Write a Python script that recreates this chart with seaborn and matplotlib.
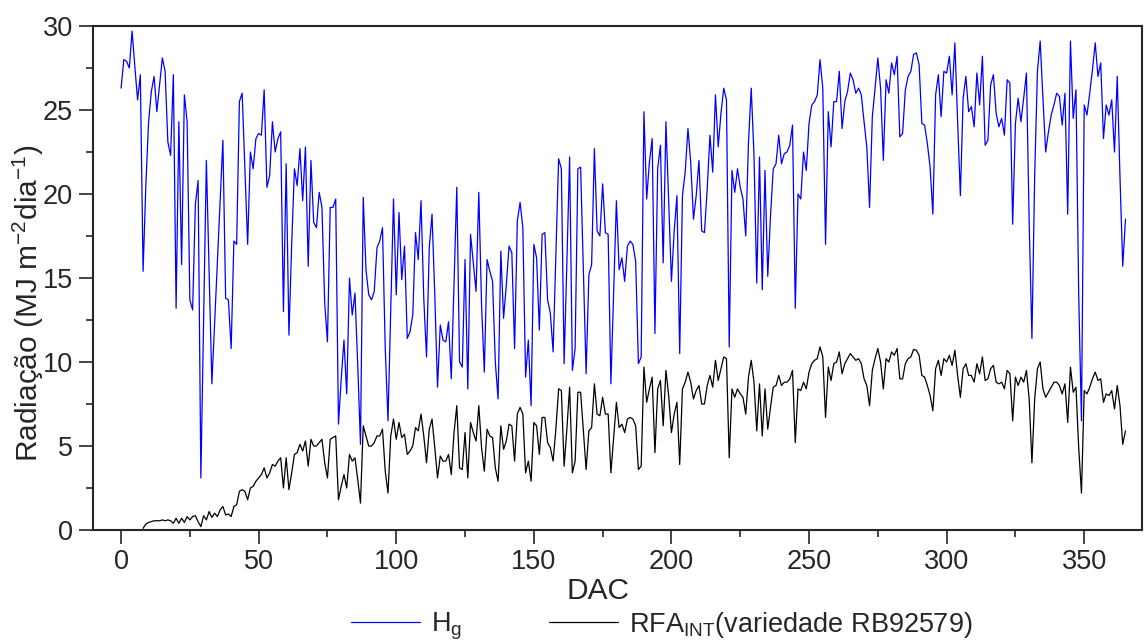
import numpy as np
import pandas as pd
import matplotlib
matplotlib.use("Agg")
import matplotlib.pyplot as plt
import seaborn as sns
from matplotlib.ticker import MultipleLocator

# Hg (dias 0..365)
hg = [
    26.3, 28.0, 27.9, 27.5, 29.7, 27.6, 25.6, 27.1, 15.4, 20.5,
    24.3, 26.1, 27.0, 24.9, 26.5, 28.1, 27.3, 23.1, 22.3, 27.1,
    13.2, 24.3, 15.8, 25.9, 24.3, 13.7, 13.1, 19.4, 20.8, 3.1,
    12.5, 22.0, 15.3, 8.7, 12.3, 16.0, 19.6, 23.2, 13.8, 13.7,
    10.8, 17.2, 17.0, 25.5, 26.0, 21.5, 17.0, 22.5, 21.5, 23.3,
    23.6, 23.5, 26.2, 20.4, 21.1, 24.3, 22.5, 23.3, 23.7, 13.0,
    21.8, 11.6, 17.0, 21.5, 20.5, 22.7, 19.6, 22.8, 15.7, 22.0,
    18.3, 18.0, 20.1, 19.2, 13.5, 11.2, 19.2, 19.2, 19.7, 6.3,
    9.0, 11.3, 8.1, 15.0, 12.8, 14.1, 9.8, 5.1, 19.8, 15.5,
    14.0, 13.7, 14.2, 16.8, 17.2, 18.0, 10.8, 6.5, 13.0, 19.7,
    14.0, 18.9, 14.9, 16.9, 11.4, 11.8, 12.8, 17.7, 16.1, 19.6,
    13.8, 10.3, 16.8, 18.8, 14.0, 8.5, 12.2, 11.3, 11.2, 12.4,
    9.0, 14.8, 20.4, 10.0, 9.7, 16.1, 8.4, 17.6, 15.9, 14.2,
    20.1, 13.4, 9.4, 16.1, 15.4, 14.8, 10.0, 7.8, 16.6, 12.6,
    14.6, 16.9, 16.5, 10.8, 18.4, 19.5, 18.0, 9.1, 11.3, 7.4,
    17.0, 16.2, 11.9, 17.6, 17.7, 13.7, 12.9, 10.6, 16.4, 22.1,
    21.5, 9.9, 15.9, 22.2, 9.5, 10.8, 21.5, 21.6, 15.4, 9.3,
    15.2, 15.8, 22.7, 17.8, 17.5, 20.6, 17.7, 17.6, 8.7, 14.2,
    19.6, 15.5, 16.2, 14.8, 16.9, 17.2, 17.0, 16.0, 9.9, 10.3,
    24.9, 19.7, 21.9, 23.3, 11.7, 21.5, 22.9, 15.9, 24.3, 19.5,
    14.8, 17.8, 19.9, 10.5, 19.9, 21.3, 23.9, 21.9, 18.5, 19.9,
    22.0, 17.8, 17.7, 20.3, 23.5, 21.3, 25.9, 22.8, 24.8, 26.3,
    25.6, 10.9, 21.4, 20.1, 21.5, 20.4, 19.7, 17.5, 23.1, 26.3,
    22.3, 14.7, 22.2, 14.3, 21.4, 15.1, 18.7, 21.5, 21.8, 23.5,
    21.8, 22.4, 22.5, 22.9, 24.1, 13.2, 20.0, 19.7, 22.5, 21.4,
    24.2, 25.3, 25.5, 25.9, 28.0, 26.3, 17.0, 24.9, 22.8, 25.5,
    25.5, 27.3, 23.9, 25.5, 26.1, 27.2, 26.8, 26.0, 26.3, 25.9,
    24.3, 22.8, 19.2, 24.6, 26.3, 28.1, 26.3, 22.0, 26.8, 26.0,
    27.8, 27.1, 28.2, 23.4, 23.6, 26.2, 27.0, 27.3, 28.3, 28.4,
    27.7, 24.2, 24.1, 23.0, 21.6, 18.8, 25.9, 27.1, 24.6, 27.3,
    27.2, 28.2, 25.9, 29.0, 24.3, 19.9, 25.7, 27.0, 24.9, 25.2,
    24.0, 27.2, 25.3, 28.2, 22.9, 23.2, 26.5, 27.1, 24.8, 24.0,
    24.5, 23.5, 26.8, 26.6, 18.2, 24.2, 25.7, 24.3, 25.7, 27.2,
    18.3, 11.4, 21.1, 27.3, 29.1, 25.7, 22.5, 23.7, 24.7, 25.3,
    26.0, 25.8, 24.1, 26.0, 18.8, 29.1, 24.5, 26.2, 14.0, 6.5,
    25.3, 24.7, 26.0, 27.4, 29.0, 27.0, 27.8, 23.3, 25.3, 24.7,
    25.6, 22.5, 27.0, 21.0, 15.7, 18.5,
]

# RFA interceptada (dias 8..365)
rfa_inicio = 8
rfa = [
    0.1, 0.35, 0.45, 0.5, 0.55, 0.55, 0.55, 0.6, 0.55, 0.6,
    0.55, 0.4, 0.7, 0.4, 0.7, 0.45, 0.8, 0.6, 0.8, 0.85,
    0.5, 0.2, 0.85, 0.6, 1.1, 0.75, 1.0, 0.8, 1.2, 1.4,
    0.9, 0.95, 0.8, 1.4, 1.5, 2.3, 2.4, 2.3, 1.8, 2.5,
    2.6, 2.9, 3.1, 3.3, 3.7, 3.1, 3.4, 3.9, 3.8, 4.1,
    4.3, 2.5, 4.3, 2.4, 3.4, 4.5, 4.6, 5.1, 4.7, 5.3,
    3.8, 5.4, 5.0, 5.0, 5.2, 5.4, 4.0, 3.1, 5.4, 5.5,
    5.6, 1.8, 2.6, 3.3, 2.5, 4.5, 4.1, 4.3, 3.0, 1.6,
    6.2, 5.6, 5.0, 5.0, 5.2, 5.6, 5.6, 6.0, 3.5, 2.2,
    5.6, 6.6, 5.4, 6.4, 5.5, 5.7, 4.5, 4.7, 5.0, 6.1,
    5.9, 6.9, 5.6, 4.0, 6.0, 6.6, 4.9, 3.1, 4.4, 4.1,
    4.1, 4.5, 3.3, 5.8, 7.4, 3.7, 3.6, 5.8, 3.1, 6.4,
    5.8, 5.3, 7.4, 4.9, 3.5, 6.0, 5.6, 5.5, 3.7, 2.9,
    6.2, 4.8, 5.3, 6.3, 6.2, 4.1, 6.9, 7.3, 6.9, 3.4,
    4.1, 2.9, 6.4, 6.2, 4.5, 6.7, 6.7, 5.2, 4.9, 4.1,
    6.0, 8.4, 8.3, 3.8, 6.0, 8.5, 3.4, 4.1, 8.2, 8.2,
    5.9, 3.6, 5.9, 6.1, 8.7, 6.9, 6.8, 7.9, 6.9, 6.9,
    3.4, 5.5, 7.6, 6.1, 6.3, 5.8, 6.6, 6.7, 6.6, 6.2,
    3.6, 3.8, 9.7, 7.6, 8.4, 9.1, 4.6, 8.4, 8.9, 6.2,
    9.5, 8.0, 5.8, 6.9, 7.6, 3.9, 8.4, 8.8, 9.4, 8.8,
    7.8, 8.3, 8.6, 7.5, 7.5, 8.6, 9.2, 8.5, 10.1, 8.9,
    9.6, 10.3, 10.2, 4.3, 8.4, 7.9, 8.4, 8.1, 7.9, 6.9,
    9.1, 10.1, 8.8, 5.9, 8.7, 5.6, 8.4, 6.0, 7.3, 8.5,
    8.6, 9.2, 8.6, 8.8, 8.8, 9.0, 9.5, 5.2, 8.4, 8.3,
    8.8, 8.4, 9.4, 9.9, 10.1, 10.2, 10.9, 10.3, 6.7, 9.7,
    8.9, 9.9, 10.0, 10.6, 9.3, 9.9, 10.2, 10.5, 10.3, 10.1,
    10.2, 9.9, 9.0, 8.6, 7.4, 9.5, 10.2, 10.8, 10.0, 8.4,
    10.2, 10.0, 10.6, 10.4, 10.8, 9.0, 9.0, 9.9, 10.2, 10.3,
    10.75, 10.7, 10.4, 9.2, 9.1, 8.6, 8.0, 7.1, 9.6, 10.1,
    9.2, 10.2, 10.0, 10.4, 9.8, 10.7, 9.2, 7.9, 9.6, 9.9,
    9.2, 9.2, 8.8, 9.9, 9.3, 10.3, 8.9, 9.0, 9.6, 9.8,
    8.8, 8.7, 8.8, 8.4, 9.5, 9.3, 6.5, 9.1, 8.6, 9.1,
    8.8, 9.5, 7.8, 4.0, 7.8, 9.6, 10.0, 8.4, 7.9, 8.2,
    8.5, 8.8, 8.8, 8.6, 8.1, 8.7, 6.4, 9.7, 8.2, 8.5,
    4.9, 2.2, 8.3, 8.1, 8.5, 9.0, 9.4, 8.9, 9.0, 7.6,
    8.1, 8.0, 8.3, 7.2, 8.6, 7.4, 5.1, 5.9,
]

df_hg = pd.DataFrame({"DAC": np.arange(len(hg)), "valor": hg})
df_rfa = pd.DataFrame({"DAC": np.arange(rfa_inicio, rfa_inicio + len(rfa)), "valor": rfa})

sns.set_style("ticks")
plt.rcParams["font.family"] = ["Liberation Sans", "DejaVu Sans"]
plt.rcParams["mathtext.fontset"] = "custom"
plt.rcParams["mathtext.rm"] = "Liberation Sans"
plt.rcParams["mathtext.it"] = "Liberation Sans"

fig = plt.figure(figsize=(11.44, 6.44), dpi=100)
ax = fig.add_axes([93 / 1144, 114 / 644, 1049 / 1144, 504 / 644])

sns.lineplot(data=df_hg, x="DAC", y="valor", ax=ax, color="#0000ff", lw=0.9,
             label=r"H$_\mathrm{g}$")
sns.lineplot(data=df_rfa, x="DAC", y="valor", ax=ax, color="black", lw=0.9,
             label=r"RFA$_\mathrm{INT}$(variedade RB92579)")

ax.set_xlim(-10.2, 371)
ax.set_ylim(0, 30)
ax.xaxis.set_major_locator(MultipleLocator(50))
ax.xaxis.set_minor_locator(MultipleLocator(25))
ax.yaxis.set_major_locator(MultipleLocator(5))
ax.yaxis.set_minor_locator(MultipleLocator(2.5))
ax.tick_params(which="major", direction="out", length=10, width=1.2,
               labelsize=19.5, pad=4.5)
ax.tick_params(which="minor", direction="out", length=5, width=1.2)
ax.tick_params(axis="x", which="major", pad=4)
for s in ax.spines.values():
    s.set_linewidth(1.5)

ax.set_xlabel("DAC", fontsize=21.5)
ax.xaxis.set_label_coords(0.481, -0.093)
ax.set_ylabel(r"Radiação (MJ m$^{-2}$dia$^{-1}$)", fontsize=21.5)
ax.yaxis.set_label_coords(-0.045, 0.45)

ax.legend(loc="center", bbox_to_anchor=(0.542, -0.19), ncol=2, frameon=False,
          fontsize=19.5, handlelength=2.55, handletextpad=0.4, columnspacing=3.2)

fig.savefig("out.png", dpi=100)
